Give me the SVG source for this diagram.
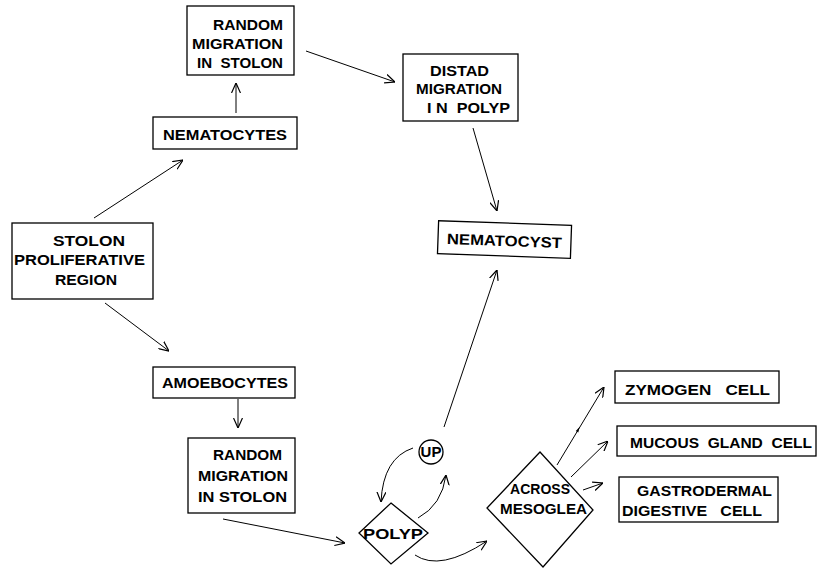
<svg xmlns="http://www.w3.org/2000/svg" width="817" height="568" viewBox="0 0 817 568">
<style>
.box{fill:none;stroke:#000;stroke-width:1.3}
.t{font-family:"Liberation Sans",Arial,sans-serif;font-size:15px;font-weight:bold;fill:#000}
.c{fill:none;stroke:#000;stroke-width:1}
</style>
<defs>
<marker id="a" viewBox="0 0 10 10" refX="10" refY="5" markerWidth="10" markerHeight="10" markerUnits="userSpaceOnUse" orient="auto">
<path d="M0,0.5 L10,5 L0,9.5" fill="none" stroke="#000" stroke-width="1.2"/>
</marker>
</defs>
<rect width="817" height="568" fill="#fff"/>
<g id="connectors">
<path class="c" d="M94,218 L183,160" marker-end="url(#a)"/>
<path class="c" d="M236,113 L236,83" marker-end="url(#a)"/>
<path class="c" d="M306,51 L395,82" marker-end="url(#a)"/>
<path class="c" d="M473,128 L497,211" marker-end="url(#a)"/>
<path class="c" d="M105,303 L169,351" marker-end="url(#a)"/>
<path class="c" d="M238,399 L238,428" marker-end="url(#a)"/>
<path class="c" d="M223,519 L345,543" marker-end="url(#a)"/>
<path class="c" d="M413,448 Q383,458 381,502" marker-end="url(#a)"/>
<path class="c" d="M418,518 Q442,505 446,475" marker-end="url(#a)"/>
<path class="c" d="M415,555 Q440,572 487,541" marker-end="url(#a)"/>
<path class="c" d="M444,427 L497,270" marker-end="url(#a)"/>
<path class="c" d="M557,465 L604,387" marker-end="url(#a)"/>
<path d="M579.6,427 L578.3,432.6 L575.8,431.1 Z" fill="#000"/>
<path class="c" d="M571,477 L608,441" marker-end="url(#a)"/>
<path class="c" d="M583,490 L603,483" marker-end="url(#a)"/>
</g>
<g id="random-top">
<rect class="box" x="187" y="6" width="107" height="69"/>
<text class="t" x="213" y="30" textLength="70" lengthAdjust="spacingAndGlyphs">RANDOM</text>
<text class="t" x="192" y="49" textLength="91" lengthAdjust="spacingAndGlyphs">MIGRATION</text>
<text class="t" x="197" y="68" textLength="86" lengthAdjust="spacingAndGlyphs" xml:space="preserve">IN  STOLON</text>
</g>
<g id="nematocytes">
<rect class="box" x="153" y="117" width="144" height="32"/>
<text class="t" x="163" y="140" textLength="124" lengthAdjust="spacingAndGlyphs">NEMATOCYTES</text>
</g>
<g id="stolon">
<rect class="box" x="12" y="223" width="141" height="76"/>
<text class="t" x="53" y="246" textLength="72" lengthAdjust="spacingAndGlyphs">STOLON</text>
<text class="t" x="14" y="265" textLength="131" lengthAdjust="spacingAndGlyphs">PROLIFERATIVE</text>
<text class="t" x="55" y="285" textLength="62" lengthAdjust="spacingAndGlyphs">REGION</text>
</g>
<g id="distad">
<rect class="box" x="403" y="54" width="115" height="67"/>
<text class="t" x="430" y="76" textLength="59" lengthAdjust="spacingAndGlyphs">DISTAD</text>
<text class="t" x="416" y="94" textLength="86" lengthAdjust="spacingAndGlyphs">MIGRATION</text>
<text class="t" x="427" y="113" textLength="83" lengthAdjust="spacingAndGlyphs" xml:space="preserve">I N  POLYP</text>
</g>
<g id="nematocyst" transform="rotate(2 504 240)">
<rect class="box" x="438" y="223" width="133" height="33"/>
<text class="t" x="447" y="246" textLength="115" lengthAdjust="spacingAndGlyphs">NEMATOCYST</text>
</g>
<g id="amoebocytes">
<rect class="box" x="153" y="367" width="142" height="31"/>
<text class="t" x="162" y="388" textLength="126" lengthAdjust="spacingAndGlyphs">AMOEBOCYTES</text>
</g>
<g id="random-bottom">
<rect class="box" x="188" y="438" width="107" height="75"/>
<text class="t" x="213" y="460" textLength="69" lengthAdjust="spacingAndGlyphs">RANDOM</text>
<text class="t" x="198" y="481" textLength="90" lengthAdjust="spacingAndGlyphs">MIGRATION</text>
<text class="t" x="198" y="502" textLength="89" lengthAdjust="spacingAndGlyphs">IN STOLON</text>
</g>
<g id="up">
<circle class="box" cx="431" cy="452" r="12"/>
<text class="t" x="431" y="457" text-anchor="middle" font-size="12">UP</text>
</g>
<g id="polyp">
<polygon class="box" points="391,503 428,533 391,564 359,533"/>
<text class="t" x="363" y="539" textLength="60" lengthAdjust="spacingAndGlyphs">POLYP</text>
</g>
<g id="across">
<polygon class="box" points="540,452 593,510 543,567 487,508"/>
<text class="t" x="510" y="494" textLength="60" lengthAdjust="spacingAndGlyphs">ACROSS</text>
<text class="t" x="500" y="514" textLength="87" lengthAdjust="spacingAndGlyphs">MESOGLEA</text>
</g>
<g id="zymogen">
<rect class="box" x="615" y="371" width="164" height="32"/>
<text class="t" x="625" y="395" textLength="145" lengthAdjust="spacingAndGlyphs" xml:space="preserve">ZYMOGEN   CELL</text>
</g>
<g id="mucous">
<rect class="box" x="617" y="426" width="199" height="30"/>
<text class="t" x="630" y="448" textLength="182" lengthAdjust="spacingAndGlyphs" xml:space="preserve">MUCOUS  GLAND  CELL</text>
</g>
<g id="gastrodermal">
<rect class="box" x="619" y="477" width="159" height="45"/>
<text class="t" x="637" y="496" textLength="135" lengthAdjust="spacingAndGlyphs">GASTRODERMAL</text>
<text class="t" x="622" y="516" textLength="140" lengthAdjust="spacingAndGlyphs" xml:space="preserve">DIGESTIVE   CELL</text>
</g>
</svg>
